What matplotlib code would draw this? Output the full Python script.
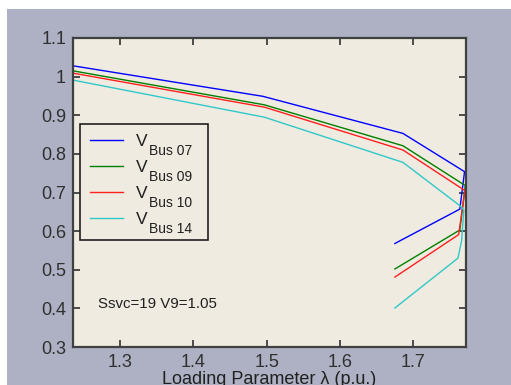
import matplotlib
matplotlib.use("Agg")
import matplotlib.pyplot as plt
from matplotlib.patches import Rectangle

plt.rcParams['font.family'] = ['Liberation Sans', 'DejaVu Sans']

# Data (loading parameter lambda, voltage p.u.)
lam_bus07 = [1.236, 1.495, 1.686, 1.770, 1.7636, 1.675]
v_bus07 = [1.028, 0.949, 0.853, 0.754, 0.657, 0.568]
lam_bus09 = [1.236, 1.497, 1.686, 1.771, 1.7636, 1.675]
v_bus09 = [1.015, 0.927, 0.821, 0.718, 0.603, 0.502]
lam_bus10 = [1.236, 1.497, 1.686, 1.7705, 1.762, 1.675]
v_bus10 = [1.009, 0.921, 0.810, 0.705, 0.591, 0.481]
lam_bus14 = [1.236, 1.497, 1.686, 1.7636, 1.769, 1.766, 1.761, 1.675]
v_bus14 = [0.991, 0.895, 0.778, 0.666, 0.655, 0.575, 0.530, 0.401]

bus_names = ['Bus 07', 'Bus 09', 'Bus 10', 'Bus 14']
colors = ['#0000FF', '#008000', '#FF2020', '#30C8C8']
xticks = [1.3, 1.4, 1.5, 1.6, 1.7]
yticks = [0.3, 0.4, 0.5, 0.6, 0.7, 0.8, 0.9, 1.0, 1.1]
yticklabels = ['0.3', '0.4', '0.5', '0.6', '0.7', '0.8', '0.9', '1', '1.1']

W, H = 511, 385
fig = plt.figure(figsize=(W / 100, H / 100), dpi=100)
fig.patch.set_facecolor('white')
fig.add_artist(Rectangle((7 / W, 0), 1, (H - 9) / H, transform=fig.transFigure,
                         facecolor='#AEB1C4', edgecolor='none', zorder=-5))

AX_L, AX_R, AX_T, AX_B = 73, 466, 38, 347
ax = fig.add_axes([AX_L / W, (H - AX_B) / H, (AX_R - AX_L) / W, (AX_B - AX_T) / H])
ax.set_facecolor('#EFEBE0')

series = [(lam_bus07, v_bus07), (lam_bus09, v_bus09), (lam_bus10, v_bus10), (lam_bus14, v_bus14)]
for (x, y), c in zip(series, colors):
    ax.plot(x, y, color=c, lw=1.0, label='V')

ax.set_xlim(1.236, 1.772)
ax.set_ylim(0.3, 1.1)
ax.set_xticks(xticks)
ax.set_xticklabels([str(t) for t in xticks])
ax.set_yticks(yticks)
ax.set_yticklabels(yticklabels)
ax.tick_params(direction='in', length=5, width=1.2, color='#303030',
               top=True, right=True, labelsize=13, labelcolor='#303030', pad=5)
for s in ax.spines.values():
    s.set_color('#404040')
    s.set_linewidth(1.6)

ax.text(1.270, 0.402, 'Ssvc=19 V9=1.05', fontsize=10.8, color='#202020', va='baseline')

ax.set_xlabel('Loading Parameter λ (p.u.)', fontsize=13, color='#202020')
ax.xaxis.label.set_va('baseline')
ax.xaxis.set_label_coords(0.5, (AX_B - 383.5) / (AX_B - AX_T))

# legend frame box (pixels 80..208 x 124..240)
aw, ah = AX_R - AX_L, AX_B - AX_T
box = Rectangle(((80 - AX_L) / aw, (AX_B - 240) / ah), 128 / aw, 116 / ah,
                transform=ax.transAxes, facecolor='#EFEBE0', edgecolor='#202020',
                linewidth=1.2, zorder=4)
ax.add_patch(box)

leg = ax.legend(loc='upper left', bbox_to_anchor=((80 - AX_L) / aw, (AX_B - 124) / ah),
                borderaxespad=0, fontsize=12.5, frameon=False,
                handlelength=1.93, handletextpad=0.72,
                labelspacing=0.63, borderpad=0.55)
leg.set_zorder(5)
for t, name in zip(leg.get_texts(), bus_names):
    t.set_color('#202020')
    ax.annotate(name, xy=(1, 0), xycoords=t, xytext=(1.5, -6),
                textcoords='offset pixels', fontsize=10, color='#202020',
                va='baseline', ha='left', zorder=6, annotation_clip=False)

fig.savefig('out.png', dpi=100, facecolor=fig.get_facecolor())
